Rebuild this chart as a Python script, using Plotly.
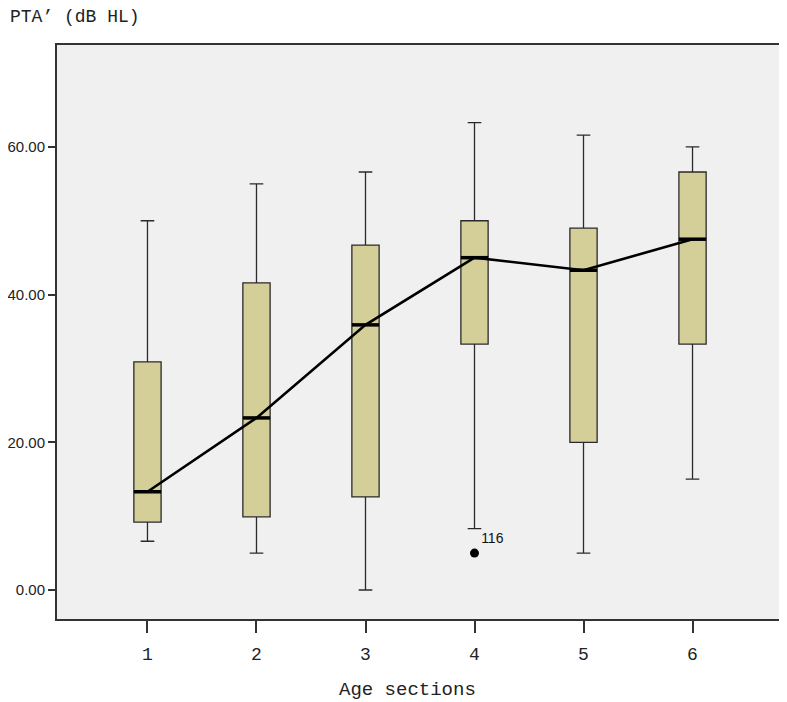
import plotly.graph_objects as go

# ---- data ----
age_sections = [1, 2, 3, 4, 5, 6]
tick_labels = ["1", "2", "3", "4", "5", "6"]
lower_whisker = [6.6, 5.0, 0.0, 8.3, 5.0, 15.0]
q1_values = [9.2, 9.9, 12.6, 33.3, 20.0, 33.3]
median_values = [13.3, 23.3, 35.9, 45.0, 43.3, 47.5]
q3_values = [30.9, 41.6, 46.7, 50.0, 49.0, 56.6]
upper_whisker = [50.0, 55.0, 56.6, 63.3, 61.6, 60.0]
outlier_x = [4]
outlier_y = [5.0]
outlier_labels = ["116"]
y_ticks = [0, 20, 40, 60]
y_tick_labels = ["0.00", "20.00", "40.00", "60.00"]

BOX_W = 0.25
FILL = "#D4CF98"
EDGE = "#2a2a2a"

fig = go.Figure()

fig.add_trace(go.Box(
    x=age_sections,
    q1=q1_values, median=median_values, q3=q3_values,
    lowerfence=lower_whisker, upperfence=upper_whisker,
    width=BOX_W, whiskerwidth=0.5,
    fillcolor=FILL, line=dict(color=EDGE, width=1.3),
    boxpoints=False, showlegend=False, hoverinfo="skip",
))

# thick median bars
mx, my = [], []
for c, m in zip(age_sections, median_values):
    mx += [c - BOX_W / 2, c + BOX_W / 2, None]
    my += [m, m, None]
fig.add_trace(go.Scatter(x=mx, y=my, mode="lines",
                         line=dict(color="black", width=3.5),
                         showlegend=False, hoverinfo="skip"))

# line connecting medians
fig.add_trace(go.Scatter(x=age_sections, y=median_values, mode="lines",
                         line=dict(color="black", width=2.6),
                         showlegend=False, hoverinfo="skip"))

# outlier
fig.add_trace(go.Scatter(x=outlier_x, y=outlier_y, mode="markers+text",
                         marker=dict(color="black", size=9),
                         text=outlier_labels, textposition="top right",
                         textfont=dict(family="Liberation Sans, Arial", size=14, color="#111"),
                         showlegend=False, hoverinfo="skip"))

# page body has an 8px margin, so the figure is 8px smaller and margins shifted
W, H = 779, 694
L, R, T, B = 49, 4, 37, 83
PW, PH = W - L - R, H - T - B

fig.update_layout(
    width=W, height=H,
    margin=dict(l=L, r=R, t=T, b=B, autoexpand=False),
    paper_bgcolor="white",
    plot_bgcolor="#F0F0F0",
    showlegend=False,
    xaxis=dict(
        range=[0.17, 6.83], automargin=False,
        tickmode="array", tickvals=age_sections, ticktext=tick_labels,
        ticks="outside", ticklen=12, tickwidth=1.5, tickcolor="#333",
        ticklabelstandoff=5,
        tickfont=dict(family="Liberation Mono, DejaVu Sans Mono", size=18, color="#222"),
        showgrid=False, zeroline=False,
        showline=True, linecolor="#333", linewidth=2, mirror=True,
    ),
    yaxis=dict(
        range=[-3.93, 73.8], automargin=False,
        tickmode="array", tickvals=y_ticks, ticktext=y_tick_labels,
        ticks="outside", ticklen=7, tickwidth=1.5, tickcolor="#333",
        tickfont=dict(family="Liberation Sans, Arial", size=15, color="#222"),
        showgrid=False, zeroline=False,
        showline=True, linecolor="#333", linewidth=2, mirror=True,
    ),
    annotations=[
        dict(text="PTA’ (dB HL)", xref="paper", yref="paper",
             x=-L / PW, y=1 + T / PH, xanchor="left", yanchor="top",
             yshift=3, showarrow=False,
             font=dict(family="Liberation Mono, DejaVu Sans Mono", size=18, color="#222")),
        dict(text="Age sections", xref="paper", yref="paper",
             x=0.483, y=0, xanchor="center", yanchor="middle",
             yshift=-71, showarrow=False,
             font=dict(family="Liberation Mono, DejaVu Sans Mono", size=19, color="#222")),
    ],
)

fig.write_html("out.html")
